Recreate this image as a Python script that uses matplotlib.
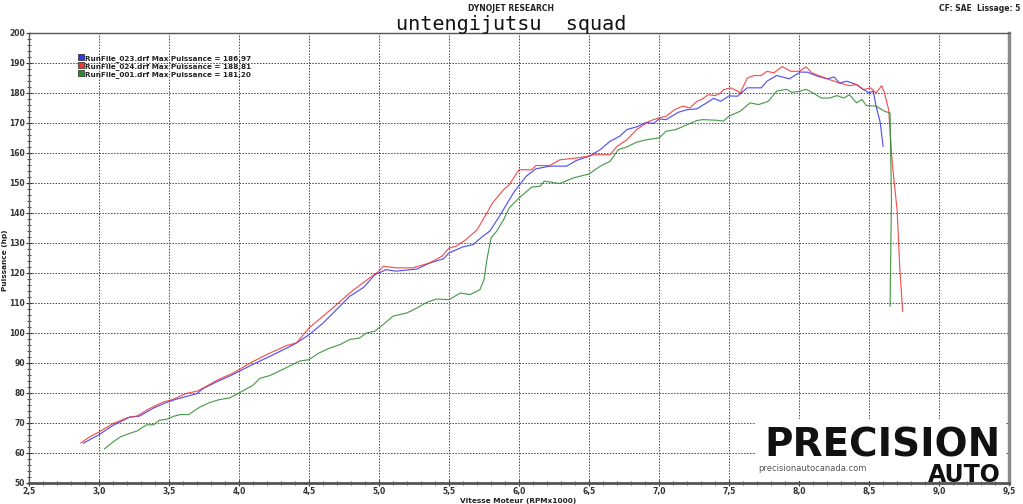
"""Dyno chart: power vs engine speed for three run files."""

import numpy as np
import matplotlib
matplotlib.use("Agg")
import matplotlib.pyplot as plt
from matplotlib.lines import Line2D
from matplotlib.patches import Rectangle
from matplotlib.ticker import MultipleLocator, FuncFormatter

# run 023 (blue)
rpm_023 = [2.89, 3.00, 3.10, 3.22, 3.29, 3.39, 3.48, 3.55, 3.70, 3.74, 3.84, 3.95, 4.00,
           4.08, 4.22, 4.39, 4.50, 4.60, 4.72, 4.79, 4.89, 4.97, 5.05, 5.12, 5.27, 5.36,
           5.46, 5.50, 5.60, 5.67, 5.74, 5.79, 5.86, 5.96, 6.05, 6.12, 6.22, 6.34, 6.41,
           6.50, 6.58, 6.65, 6.72, 6.77, 6.84, 6.91, 6.96, 7.00, 7.05, 7.14, 7.20, 7.27,
           7.34, 7.39, 7.44, 7.50, 7.56, 7.63, 7.73, 7.77, 7.84, 7.93, 8.01, 8.06, 8.13,
           8.20, 8.25, 8.29, 8.34, 8.41, 8.46, 8.50, 8.53, 8.55, 8.58, 8.60]
hp_023 = [63.3, 66.1, 69.2, 72.0, 72.3, 75.0, 76.8, 77.9, 79.8, 81.4, 83.7, 86.0, 87.2,
          89.1, 92.2, 96.1, 99.4, 103.3, 108.9, 112.2, 115.2, 119.4, 121.1, 120.6, 121.3, 123.3,
          124.7, 126.7, 128.7, 129.4, 132.2, 133.9, 138.9, 146.7, 152.2, 154.7, 155.6, 155.6, 157.5,
          158.9, 161.1, 163.9, 165.6, 167.8, 168.7, 170.2, 169.8, 171.3, 171.1, 173.6, 174.4, 174.7,
          176.7, 178.2, 177.2, 179.0, 178.9, 181.7, 181.7, 183.9, 185.8, 184.7, 186.97, 186.9, 185.6,
          184.7, 185.3, 183.3, 183.9, 182.8, 181.1, 180.0, 180.6, 175.6, 170.0, 162.2]

# run 024 (red)
rpm_024 = [2.87, 2.93, 3.00, 3.10, 3.20, 3.27, 3.36, 3.46, 3.53, 3.62, 3.70, 3.77, 3.84,
           3.95, 4.00, 4.08, 4.22, 4.34, 4.41, 4.50, 4.60, 4.71, 4.79, 4.89, 5.00, 5.03,
           5.12, 5.24, 5.36, 5.45, 5.50, 5.55, 5.62, 5.70, 5.77, 5.81, 5.89, 5.93, 6.00,
           6.09, 6.12, 6.22, 6.29, 6.39, 6.50, 6.53, 6.65, 6.70, 6.77, 6.84, 6.93, 7.00,
           7.05, 7.11, 7.17, 7.22, 7.27, 7.31, 7.35, 7.40, 7.44, 7.46, 7.51, 7.56, 7.58,
           7.63, 7.68, 7.73, 7.77, 7.82, 7.88, 7.94, 8.00, 8.05, 8.09, 8.15, 8.22, 8.29,
           8.36, 8.41, 8.46, 8.51, 8.55, 8.59, 8.61, 8.64, 8.66, 8.67, 8.70, 8.72, 8.74]
hp_024 = [63.3, 65.3, 67.0, 69.8, 71.7, 72.3, 74.8, 77.0, 77.9, 79.8, 80.6, 82.3, 84.2,
          86.5, 87.8, 90.0, 93.3, 95.8, 96.7, 101.7, 105.6, 110.0, 113.3, 116.9, 120.6, 122.2,
          121.7, 121.7, 123.3, 125.6, 128.3, 128.9, 131.1, 134.4, 140.0, 143.3, 147.8, 149.4, 154.4,
          154.4, 155.8, 155.8, 157.7, 158.2, 158.9, 159.4, 159.4, 162.2, 164.4, 167.8, 170.6, 171.7,
          172.2, 174.4, 175.6, 175.0, 177.2, 178.0, 179.4, 179.1, 180.0, 181.1, 181.7, 180.6, 180.0,
          185.0, 185.8, 185.8, 187.2, 186.7, 188.81, 187.2, 187.2, 188.7, 186.7, 185.6, 184.4, 183.3,
          182.4, 182.8, 181.1, 181.7, 180.0, 182.4, 180.0, 174.4, 160.0, 154.4, 141.1, 121.1, 107.2]

# run 001 (green)
rpm_001 = [3.04, 3.10, 3.15, 3.21, 3.27, 3.34, 3.39, 3.43, 3.48, 3.53, 3.58, 3.64, 3.72,
           3.79, 3.86, 3.93, 4.00, 4.10, 4.15, 4.22, 4.31, 4.43, 4.50, 4.57, 4.65, 4.72,
           4.79, 4.86, 4.91, 4.97, 5.03, 5.10, 5.20, 5.27, 5.34, 5.41, 5.50, 5.58, 5.65,
           5.72, 5.75, 5.77, 5.80, 5.84, 5.89, 5.93, 6.00, 6.09, 6.15, 6.18, 6.29, 6.39,
           6.50, 6.58, 6.65, 6.71, 6.77, 6.84, 6.91, 7.00, 7.05, 7.12, 7.20, 7.27, 7.31,
           7.41, 7.46, 7.50, 7.58, 7.65, 7.71, 7.78, 7.84, 7.91, 7.95, 8.01, 8.05, 8.10,
           8.16, 8.22, 8.27, 8.32, 8.36, 8.41, 8.45, 8.48, 8.55, 8.61, 8.65, 8.655, 8.66,
           8.655, 8.65]
hp_001 = [61.4, 63.7, 65.3, 66.4, 67.3, 69.4, 69.4, 70.9, 71.2, 72.2, 72.8, 72.8, 75.3,
          76.8, 77.8, 78.3, 80.0, 82.6, 84.9, 85.8, 87.8, 90.6, 91.1, 93.3, 95.0, 96.1,
          97.8, 98.3, 100.0, 100.6, 102.8, 105.6, 106.7, 108.3, 110.2, 111.3, 111.1, 113.3, 112.8,
          114.4, 117.8, 124.4, 131.7, 133.9, 137.8, 141.7, 145.0, 148.6, 148.9, 150.6, 149.8, 151.7,
          153.0, 155.6, 157.2, 161.1, 162.0, 163.6, 164.4, 165.0, 167.2, 167.8, 169.4, 170.8, 171.1,
          170.9, 170.6, 172.3, 173.9, 176.7, 176.1, 177.2, 180.6, 181.2, 180.2, 180.6, 181.2, 180.0,
          178.3, 178.3, 179.1, 178.3, 179.4, 176.7, 177.8, 175.8, 175.6, 173.9, 173.3, 157.8, 144.4,
          127.8, 108.9]

runs = [
    ("RunFile_023.drf Max Puissance = 186,97", rpm_023, hp_023, "#3535f0"),
    ("RunFile_024.drf Max Puissance = 188,81", rpm_024, hp_024, "#f03535"),
    ("RunFile_001.drf Max Puissance = 181,20", rpm_001, hp_001, "#2e8b2e"),
]

plt.rcParams["font.family"] = ["DejaVu Sans"]

fig = plt.figure(figsize=(10.23, 5.04), dpi=100)
ax = fig.add_axes([0.0284, 0.0417, 0.958, 0.893])

for label, x, y, c in runs:
    ax.plot(x, y, color=c, linewidth=0.85, alpha=0.85)

ax.set_xlim(2.5, 9.5)
ax.set_ylim(50, 200)
ax.xaxis.set_major_locator(MultipleLocator(0.5))
ax.xaxis.set_minor_locator(MultipleLocator(0.1))
ax.yaxis.set_major_locator(MultipleLocator(10))
ax.yaxis.set_minor_locator(MultipleLocator(2))
ax.xaxis.set_major_formatter(FuncFormatter(lambda v, p: f"{v:.1f}".replace(".", ",")))
ax.yaxis.set_major_formatter(FuncFormatter(lambda v, p: f"{v:.0f}"))
ax.tick_params(which="major", direction="inout", length=5, width=0.8,
               labelsize=5.5, colors="#333333", pad=0.5)
ax.tick_params(which="minor", direction="inout", length=3.5, width=0.6, colors="#333333")
for lbl in ax.get_xticklabels() + ax.get_yticklabels():
    lbl.set_fontweight("bold")
ax.grid(True, which="major", color="#444444", linestyle=(0, (1.5, 1.5)), linewidth=0.7)
ax.set_axisbelow(True)

for side in ("top", "left"):
    ax.spines[side].set_color("#555555")
    ax.spines[side].set_linewidth(1.0)
ax.spines["right"].set_color("#8a8a8a")
ax.spines["right"].set_linewidth(2.5)
ax.spines["bottom"].set_color("#555555")
ax.spines["bottom"].set_linewidth(2.0)

handles = [Line2D([], [], marker="s", linestyle="none", markersize=4.2,
                  markerfacecolor=c, markeredgecolor="#222222", markeredgewidth=0.5)
           for _, _, _, c in runs]
leg = ax.legend(handles, [r[0] for r in runs], loc="upper left",
                bbox_to_anchor=(0.051, 0.951), frameon=False, fontsize=5.2,
                handlelength=0.5, handletextpad=0.3, labelspacing=0.12,
                borderpad=0, borderaxespad=0)
for t in leg.get_texts():
    t.set_fontweight("bold")
    t.set_color("#222222")

# logo block, bottom right
ax.add_patch(Rectangle((7.69, 50.6), 1.79, 20.6, facecolor="white",
                       edgecolor="none", zorder=5))
fig.text(0.978, 0.094, "PRECISION", ha="right", va="baseline", fontsize=28,
         fontweight="heavy", color="#111111", zorder=6)
fig.text(0.741, 0.071, "precisionautocanada.com", ha="left", va="center",
         fontsize=6, color="#555555", zorder=6)
fig.text(0.978, 0.043, "AUTO", ha="right", va="baseline", fontsize=17,
         fontweight="heavy", color="#111111", zorder=6)

fig.text(0.5, 0.992, "DYNOJET RESEARCH", ha="center", va="top", fontsize=5.5,
         fontweight="bold", color="#222222")
fig.text(0.5, 0.970, "untengijutsu  squad", ha="center", va="top", fontsize=14.5,
         family="DejaVu Sans Mono", color="#111111")
fig.text(0.997, 0.992, "CF: SAE  Lissage: 5", ha="right", va="top", fontsize=5.5,
         fontweight="bold", color="#222222")
fig.text(0.506, 0.0, "Vitesse Moteur (RPMx1000)", ha="center", va="bottom",
         fontsize=5.3, fontweight="bold", color="#222222")
fig.text(0.005, 0.484, "Puissance (hp)", ha="center", va="center", rotation=90,
         fontsize=5.3, fontweight="bold", color="#222222")

fig.savefig("out.png", dpi=100)
